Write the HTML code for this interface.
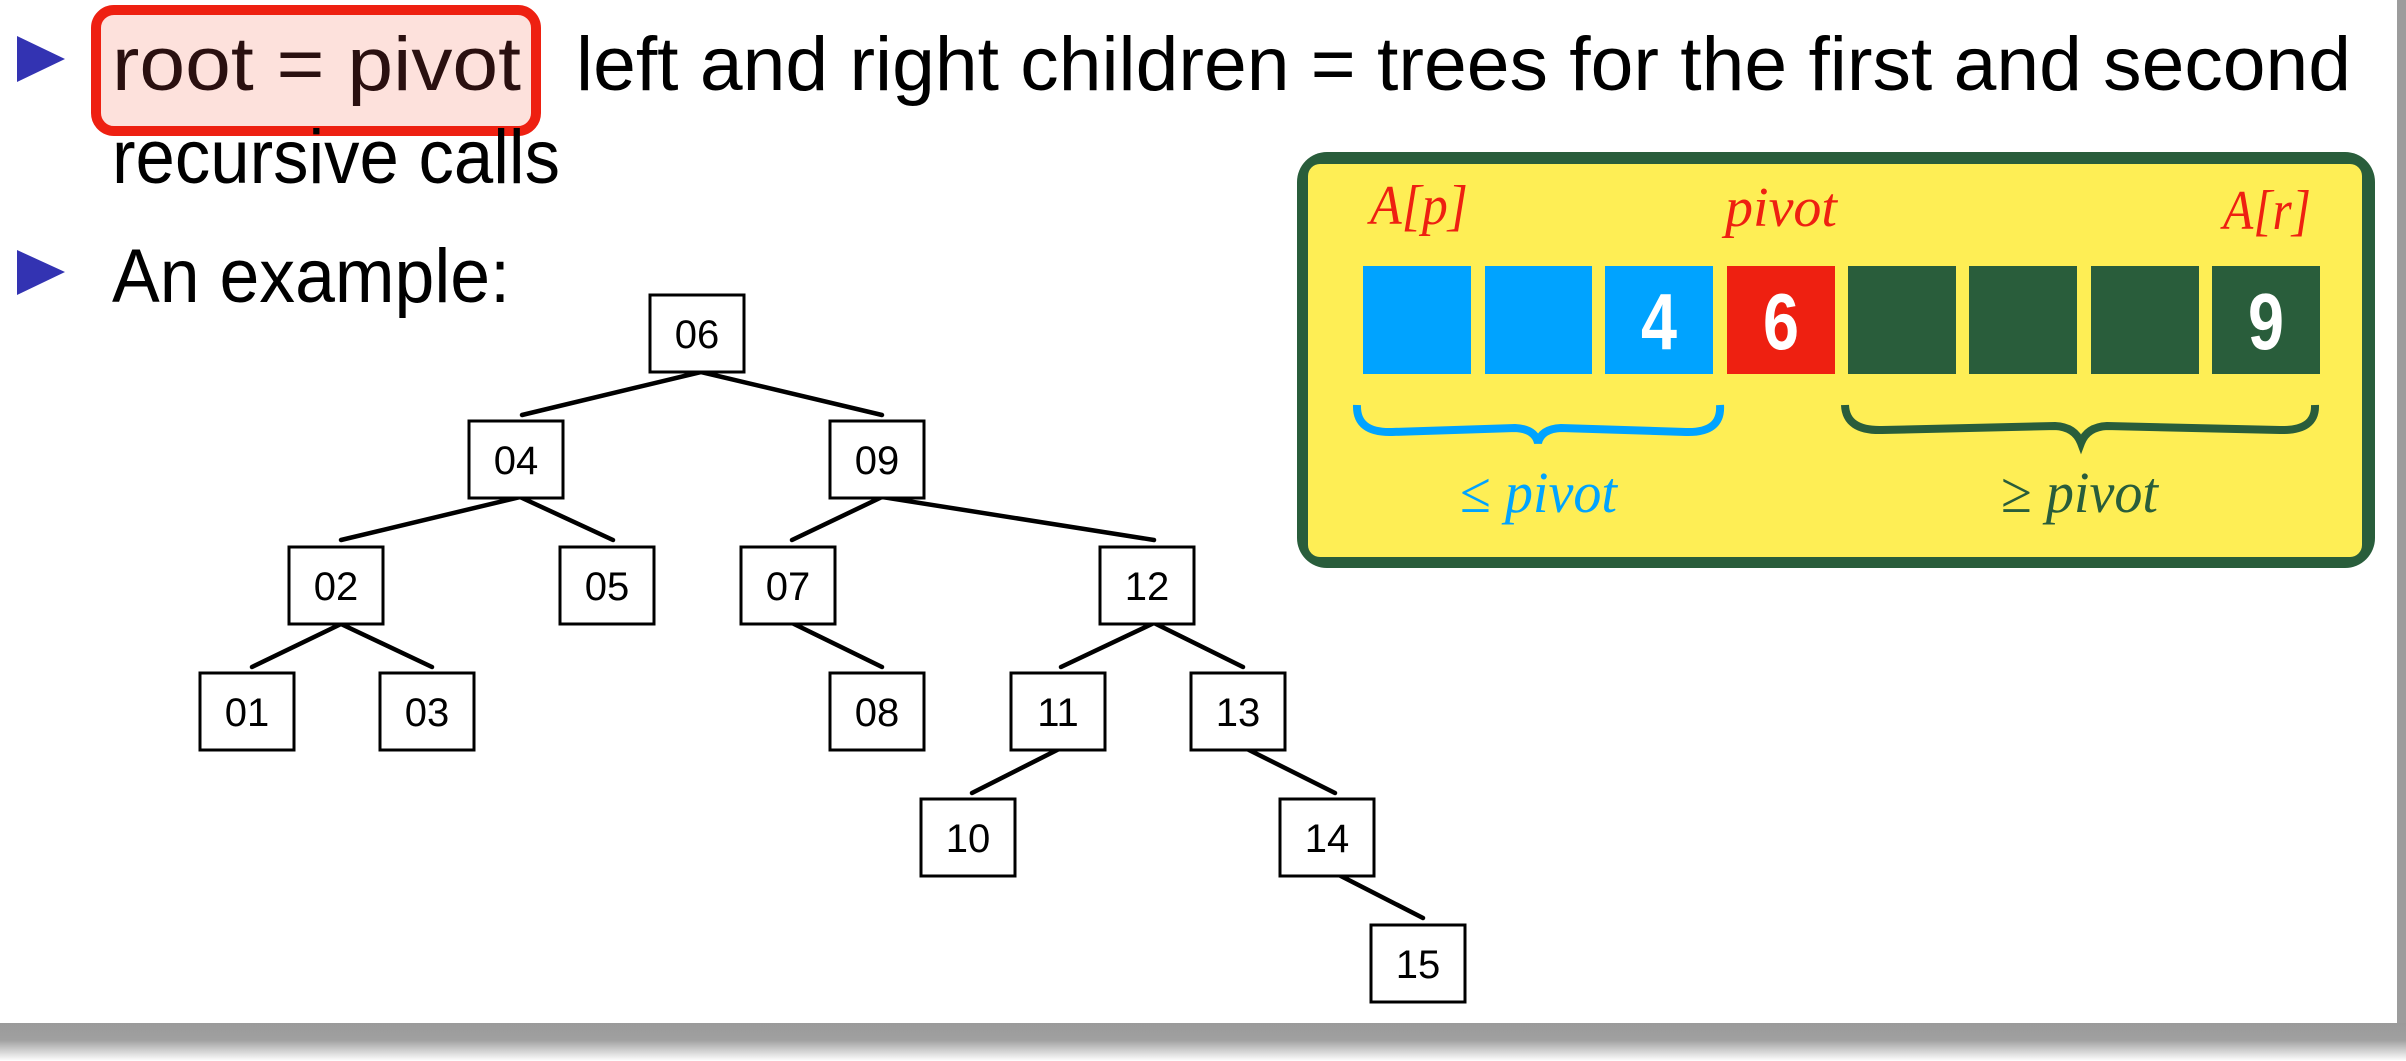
<!DOCTYPE html>
<html><head><meta charset="utf-8"><style>html,body{margin:0;padding:0;background:#fff;width:2406px;height:1061px;overflow:hidden}</style></head>
<body>
<svg width="2406" height="1061" viewBox="0 0 2406 1061" xmlns="http://www.w3.org/2000/svg">
<defs>
<linearGradient id="bs" x1="0" y1="0" x2="0" y2="1"><stop offset="0" stop-color="#9a9a9a"/><stop offset="0.45" stop-color="#a0a0a0"/><stop offset="1" stop-color="#ffffff"/></linearGradient>
</defs>
<rect width="2406" height="1061" fill="#fff"/>
<rect x="2397" y="0" width="9" height="1040" fill="#9c9c9c"/>
<rect x="0" y="1023" width="2406" height="38" fill="url(#bs)"/>

<polygon points="17,36 65,59 17,82" fill="#3333b2"/>
<polygon points="17,250 65,272 17,295" fill="#3333b2"/>

<rect x="96" y="10" width="440" height="121" rx="18" fill="#fde1dc" stroke="#ee2011" stroke-width="10"/>

<g font-family="Liberation Sans, sans-serif" font-size="76" fill="#000">
<text x="112" y="90" textLength="409" lengthAdjust="spacingAndGlyphs" fill="#2a1010">root = pivot</text>
<text x="576" y="90" textLength="1775" lengthAdjust="spacingAndGlyphs">left and right children = trees for the first and second</text>
<text x="112" y="183" textLength="448" lengthAdjust="spacingAndGlyphs">recursive calls</text>
<text x="112" y="302" textLength="398" lengthAdjust="spacingAndGlyphs">An example:</text>
</g>

<g stroke="#000" stroke-width="4.5" stroke-linecap="round">
<line x1="701" y1="372" x2="522" y2="415"/>
<line x1="701" y1="372" x2="882" y2="415"/>
<line x1="520" y1="497" x2="341" y2="540"/>
<line x1="520" y1="497" x2="613" y2="540"/>
<line x1="882" y1="497" x2="792" y2="540"/>
<line x1="882" y1="497" x2="1154" y2="540"/>
<line x1="341" y1="624" x2="252" y2="667"/>
<line x1="341" y1="624" x2="432" y2="667"/>
<line x1="792" y1="623" x2="882" y2="667"/>
<line x1="1154" y1="623" x2="1061" y2="667"/>
<line x1="1154" y1="623" x2="1243" y2="667"/>
<line x1="1063" y1="747" x2="972" y2="793"/>
<line x1="1243" y1="747" x2="1335" y2="793"/>
<line x1="1333" y1="872" x2="1423" y2="918"/>
</g>
<g fill="#fff" stroke="#000" stroke-width="3">
<rect x="650" y="295" width="94" height="77"/>
<rect x="469" y="421" width="94" height="77"/>
<rect x="830" y="421" width="94" height="77"/>
<rect x="289" y="547" width="94" height="77"/>
<rect x="560" y="547" width="94" height="77"/>
<rect x="741" y="547" width="94" height="77"/>
<rect x="1100" y="547" width="94" height="77"/>
<rect x="200" y="673" width="94" height="77"/>
<rect x="380" y="673" width="94" height="77"/>
<rect x="830" y="673" width="94" height="77"/>
<rect x="1011" y="673" width="94" height="77"/>
<rect x="1191" y="673" width="94" height="77"/>
<rect x="921" y="799" width="94" height="77"/>
<rect x="1280" y="799" width="94" height="77"/>
<rect x="1371" y="925" width="94" height="77"/>
</g>
<g font-family="Liberation Sans, sans-serif" font-size="40" text-anchor="middle" fill="#000">
<text x="697" y="348">06</text>
<text x="516" y="474">04</text>
<text x="877" y="474">09</text>
<text x="336" y="600">02</text>
<text x="607" y="600">05</text>
<text x="788" y="600">07</text>
<text x="1147" y="600">12</text>
<text x="247" y="726">01</text>
<text x="427" y="726">03</text>
<text x="877" y="726">08</text>
<text x="1058" y="726">11</text>
<text x="1238" y="726">13</text>
<text x="968" y="852">10</text>
<text x="1327" y="852">14</text>
<text x="1418" y="978">15</text>
</g>

<rect x="1297" y="152" width="1078" height="416" rx="30" fill="#295d3b"/>
<rect x="1308" y="164" width="1054" height="393" rx="12" fill="#feee55"/>
<g>
<rect x="1363" y="266" width="108" height="108" fill="#00a3ff"/>
<rect x="1485" y="266" width="107" height="108" fill="#00a3ff"/>
<rect x="1605" y="266" width="108" height="108" fill="#00a3ff"/>
<rect x="1727" y="266" width="108" height="108" fill="#ee2011"/>
<rect x="1848" y="266" width="108" height="108" fill="#295d3b"/>
<rect x="1969" y="266" width="108" height="108" fill="#295d3b"/>
<rect x="2091" y="266" width="108" height="108" fill="#295d3b"/>
<rect x="2212" y="266" width="108" height="108" fill="#295d3b"/>
</g>
<g font-family="Liberation Sans Narrow, Liberation Sans, sans-serif" font-weight="bold" font-size="80" fill="#fff" text-anchor="middle">
<text x="1659" y="349" textLength="36" lengthAdjust="spacingAndGlyphs">4</text>
<text x="1781" y="349" textLength="36" lengthAdjust="spacingAndGlyphs">6</text>
<text x="2266" y="349" textLength="36" lengthAdjust="spacingAndGlyphs">9</text>
</g>
<g font-family="Liberation Serif, serif" font-style="italic" font-size="56" fill="#ee2011">
<text x="1370" y="224" textLength="98" lengthAdjust="spacingAndGlyphs">A[p]</text>
<text x="1725" y="226" textLength="112" lengthAdjust="spacingAndGlyphs">pivot</text>
<text x="2223" y="229" textLength="88" lengthAdjust="spacingAndGlyphs">A[r]</text>
</g>
<path d="M1357,405 Q1356,433 1392,432 L1515,428 Q1535,429 1538,443 Q1541,429 1561,428 L1686,432 Q1722,433 1720,405" fill="none" stroke="#00a3ff" stroke-width="8"/>
<path d="M1845,405 Q1846,431 1882,430 L2055,426 Q2075,427 2081,443 Q2087,427 2107,426 L2280,430 Q2316,431 2315,405" fill="none" stroke="#295d3b" stroke-width="8"/>
<g font-family="Liberation Serif, serif" font-size="58">
<text x="1460" y="512" fill="#00a3ff" textLength="157" lengthAdjust="spacingAndGlyphs">≤ <tspan font-style="italic">pivot</tspan></text>
<text x="2001" y="512" fill="#295d3b" textLength="157" lengthAdjust="spacingAndGlyphs">≥ <tspan font-style="italic">pivot</tspan></text>
</g>
</svg>
</body></html>
